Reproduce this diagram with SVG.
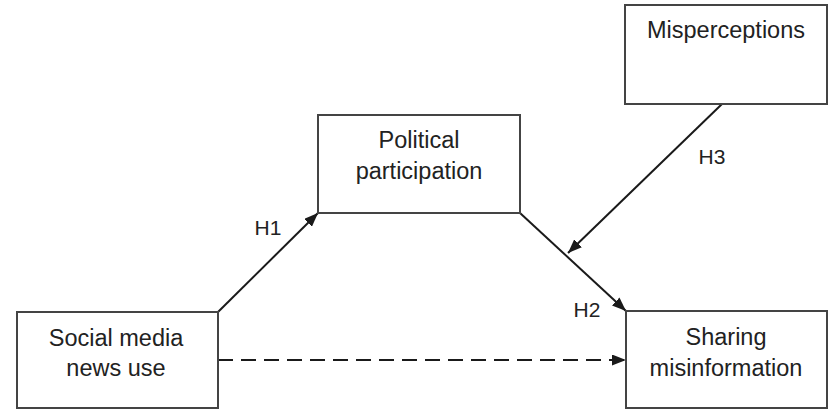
<svg xmlns="http://www.w3.org/2000/svg" width="829" height="411" viewBox="0 0 829 411">
<defs>
<marker id="ah" viewBox="0 0 14 11" refX="14" refY="5.5" markerWidth="14" markerHeight="11" markerUnits="userSpaceOnUse" orient="auto">
<path d="M0,0 L14,5.5 L0,11 Z" fill="#1a1a1a"/>
</marker>
<style>
.box{fill:#fff;stroke:#444;stroke-width:2}
.t{font-family:"Liberation Sans",Arial,sans-serif;font-size:23.5px;fill:#222;text-anchor:middle}
.l{font-family:"Liberation Sans",Arial,sans-serif;font-size:21px;fill:#222;text-anchor:middle}
.c{stroke:#1a1a1a;stroke-width:2;fill:none}
</style>
</defs>
<rect width="829" height="411" fill="#fff"/>
<g id="connectors">
<line class="c" x1="218" y1="312" x2="318" y2="213" marker-end="url(#ah)"/>
<line class="c" x1="520" y1="213" x2="626" y2="311" marker-end="url(#ah)"/>
<line class="c" x1="722" y1="104" x2="568" y2="253" marker-end="url(#ah)"/>
<line class="c" x1="218" y1="360" x2="626" y2="360" stroke-dasharray="15,8" marker-end="url(#ah)"/>
<text class="l" x="268" y="235">H1</text>
<text class="l" x="587" y="317">H2</text>
<text class="l" x="712" y="164">H3</text>
</g>
<g id="social">
<rect class="box" x="17" y="312" width="201" height="96"/>
<text class="t" x="116" y="346">Social media</text>
<text class="t" x="116" y="376">news use</text>
</g>
<g id="political">
<rect class="box" x="318" y="115" width="202" height="98"/>
<text class="t" x="419" y="148">Political</text>
<text class="t" x="419" y="179">participation</text>
</g>
<g id="misperceptions">
<rect class="box" x="625" y="5" width="202" height="99"/>
<text class="t" x="726" y="38">Misperceptions</text>
</g>
<g id="sharing">
<rect class="box" x="626" y="311" width="201" height="97"/>
<text class="t" x="726" y="345">Sharing</text>
<text class="t" x="726" y="376">misinformation</text>
</g>
</svg>
